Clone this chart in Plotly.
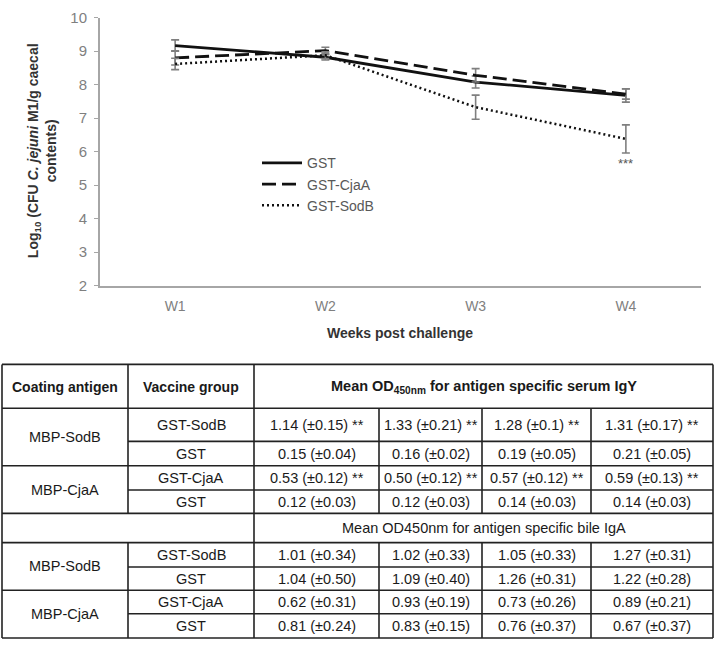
import plotly.graph_objects as go

# ---------------- data ----------------
weeks = ["W1", "W2", "W3", "W4"]
series_names = ["GST", "GST-CjaA", "GST-SodB"]
gst_vals = [9.17, 8.82, 8.08, 7.68]
gst_err = [0.17, 0.08, 0.18, 0.20]
cjaa_vals = [8.80, 9.02, 8.28, 7.72]
cjaa_err = [0.21, 0.10, 0.20, 0.15]
sodb_vals = [8.62, 8.88, 7.33, 6.38]
sodb_err = [0.17, 0.10, 0.36, 0.42]
sig_label = "***"

coating_antigens = ["MBP-SodB", "MBP-CjaA"]
vaccine_groups = ["GST-SodB", "GST", "GST-CjaA", "GST"]
igy_rows = [
    ["1.14 (±0.15) **", "1.33 (±0.21) **", "1.28 (±0.1) **", "1.31 (±0.17) **"],
    ["0.15 (±0.04)", "0.16 (±0.02)", "0.19 (±0.05)", "0.21 (±0.05)"],
    ["0.53 (±0.12) **", "0.50 (±0.12) **", "0.57 (±0.12) **", "0.59 (±0.13) **"],
    ["0.12 (±0.03)", "0.12 (±0.03)", "0.14 (±0.03)", "0.14 (±0.03)"],
]
iga_rows = [
    ["1.01 (±0.34)", "1.02 (±0.33)", "1.05 (±0.33)", "1.27 (±0.31)"],
    ["1.04 (±0.50)", "1.09 (±0.40)", "1.26 (±0.31)", "1.22 (±0.28)"],
    ["0.62 (±0.31)", "0.93 (±0.19)", "0.73 (±0.26)", "0.89 (±0.21)"],
    ["0.81 (±0.24)", "0.83 (±0.15)", "0.76 (±0.37)", "0.67 (±0.37)"],
]
header_cells = ["Coating antigen", "Vaccine group",
                "Mean OD<sub>450nm</sub> for antigen specific serum IgY"]
subheader = "Mean OD450nm for antigen specific bile IgA"

# ---------------- layout helpers ----------------
W, H = 715, 647
def px(x):
    return x / W
def py(y):
    return 1 - y / H

GRAY = "#7f7f7f"
TXT = "#1a1a1a"
FONT = "Liberation Sans, Arial, sans-serif"

fig = go.Figure()

styles = [
    dict(color="#111111", width=2.8, dash="solid"),
    dict(color="#111111", width=2.8, dash="14px,6px"),
    dict(color="#111111", width=2.5, dash="2px,3px"),
]
for name, vals, err, st in zip(series_names,
                               [gst_vals, cjaa_vals, sodb_vals],
                               [gst_err, cjaa_err, sodb_err], styles):
    fig.add_trace(go.Scatter(
        x=weeks, y=vals, name=name, mode="lines", line=st,
        error_y=dict(type="data", array=err, visible=True,
                     color=GRAY, thickness=1.6, width=4),
    ))

fig.add_annotation(x=weeks[3], y=sodb_vals[3] - sodb_err[3], xref="x", yref="y",
                   text=sig_label, showarrow=False, xanchor="center", yanchor="top", yshift=-1,
                   font=dict(family=FONT, size=13, color="#555555"))

fig.update_layout(
    width=W, height=H, margin=dict(l=0, r=0, t=0, b=0),
    paper_bgcolor="white", plot_bgcolor="white",
    showlegend=True,
    legend=dict(x=px(257), y=py(142), xanchor="left", yanchor="top",
                bgcolor="rgba(0,0,0,0)", font=dict(family=FONT, size=14, color="#595959"),
                tracegroupgap=0, itemwidth=40),
    xaxis=dict(domain=[px(100), px(701)], type="category", range=[-0.5, 3.5],
               showline=True, linecolor="#a6a6a6", linewidth=2, ticks="",
               showgrid=False, zeroline=False, ticklabelstandoff=7,
               tickfont=dict(family=FONT, size=14, color=GRAY)),
    yaxis=dict(domain=[py(284), py(9)], range=[2, 10], dtick=1,
               showline=True, linecolor="#a6a6a6", linewidth=2,
               ticks="outside", ticklen=4, tickcolor="#a6a6a6",
               showgrid=False, zeroline=False, ticklabelstandoff=4,
               tickfont=dict(family=FONT, size=15, color=GRAY)),
)

# axis titles
fig.add_annotation(x=px(42), y=py(146), xref="paper", yref="paper", showarrow=False,
                   textangle=-90, xanchor="center", yanchor="middle",
                   text="<b>Log<sub>10</sub> (CFU <i>C. jejuni</i> M1/g caecal<br>contents)</b>",
                   font=dict(family=FONT, size=14, color="#333333"))
fig.add_annotation(x=px(400), y=py(333), xref="paper", yref="paper", showarrow=False,
                   xanchor="center", yanchor="middle",
                   text="<b>Weeks post challenge</b>",
                   font=dict(family=FONT, size=14, color="#333333"))

# ---------------- table ----------------
cols = [2, 128, 254, 379, 482, 591, 713]
rows = [365, 410, 444, 469, 494, 518, 548, 573, 597, 621, 646]
LC = "#222222"
LW = 1.6

def hline(y, x0, x1):
    fig.add_shape(type="line", xref="paper", yref="paper",
                  x0=px(x0), x1=px(x1), y0=py(y), y1=py(y),
                  line=dict(color=LC, width=LW))

def vline(x, y0, y1):
    fig.add_shape(type="line", xref="paper", yref="paper",
                  x0=px(x), x1=px(x), y0=py(y0), y1=py(y1),
                  line=dict(color=LC, width=LW))

for y in [rows[0], rows[1], rows[3], rows[5], rows[6], rows[8], rows[10]]:
    hline(y, cols[0], cols[6])
for y in [rows[2], rows[4], rows[7], rows[9]]:
    hline(y, cols[1], cols[6])
vline(cols[0], rows[0], rows[10])
vline(cols[6], rows[0], rows[10])
vline(cols[2], rows[0], rows[10])
vline(cols[1], rows[0], rows[5])
vline(cols[1], rows[6], rows[10])
for c in cols[3:6]:
    vline(c, rows[1], rows[5])
    vline(c, rows[6], rows[10])

def cell_text(x, y, text, bold=False, size=14.5):
    fig.add_annotation(x=px(x), y=py(y), xref="paper", yref="paper", showarrow=False,
                       text=("<b>%s</b>" % text) if bold else text,
                       xanchor="center", yanchor="middle",
                       font=dict(family=FONT, size=size, color=TXT))

def mid(a, b):
    return (a + b) / 2

cell_text(mid(cols[0], cols[1]), mid(rows[0], rows[1]) + 1, header_cells[0], bold=True, size=14)
cell_text(mid(cols[1], cols[2]), mid(rows[0], rows[1]) + 1, header_cells[1], bold=True, size=14)
cell_text(mid(cols[2], cols[6]), mid(rows[0], rows[1]) + 1, header_cells[2], bold=True, size=14.5)
cell_text(mid(cols[2], cols[6]), mid(rows[5], rows[6]), subheader, size=14.5)

for data, r0 in [(igy_rows, 1), (iga_rows, 6)]:
    for i in range(2):
        cell_text(mid(cols[0], cols[1]), mid(rows[r0 + 2 * i], rows[r0 + 2 * i + 2]),
                  coating_antigens[i])
    for i in range(4):
        yc = mid(rows[r0 + i], rows[r0 + i + 1])
        cell_text(mid(cols[1], cols[2]), yc, vaccine_groups[i])
        for j in range(4):
            cell_text(mid(cols[2 + j], cols[3 + j]), yc, data[i][j])

fig.write_html("out.html", config={"displayModeBar": False},
               post_script="document.body.style.margin='0';")
